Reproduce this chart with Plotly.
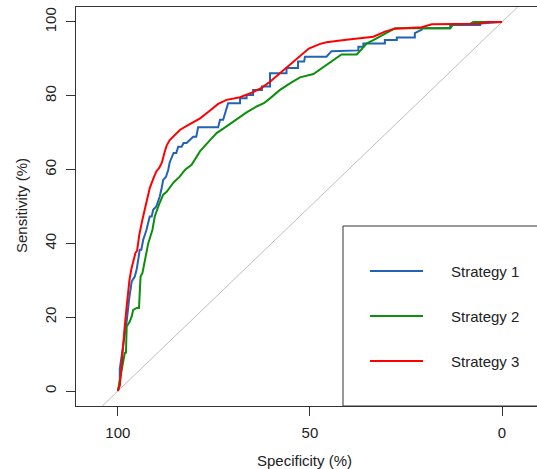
import plotly.graph_objects as go

# ---- data (specificity %, sensitivity %) ----
strategy_names = ["Strategy 1", "Strategy 2", "Strategy 3"]
line_colors = ["#2163B6", "#0A900A", "#FF0000"]

s1_spec = [100, 99.5, 99.5, 98.6, 97.7, 97.1, 96.4, 95.6, 95.1, 94.7, 94.3, 93.9, 93.4, 92.6, 91.7, 91.2,
           90.8, 90.0, 89.1, 88.6, 88.2, 87.5, 86.9, 86.5, 86.0, 85.5, 84.8, 84.3, 83.4, 82.9, 82.1, 81.3,
           80.4, 79.6, 79.1, 73.9, 73.4, 72.6, 71.7, 71.3, 68.2, 68.2, 66.5, 66.5, 64.8, 64.8, 62.5, 62.5,
           60.4, 60.4, 56.1, 56.1, 53.1, 53.1, 51.5, 51.3, 45.7, 44.4, 37.4, 37.4, 36.1, 36.1, 34.4, 30.5,
           30.5, 27.4, 27.4, 22.7, 22.7, 21.8, 20.9, 20.9, 13.5, 13.5, 5.7, 5.7, 0]
s1_sens = [0, 2, 6, 12, 19, 24.7, 29.7, 31, 33, 35.6, 38.3, 38.3, 41, 43.5, 47.3, 47.3,
           49.1, 50, 52.7, 55, 57.2, 58, 59.9, 62, 63.5, 64.5, 64.5, 66.2, 66.2, 67.2, 67.2, 68,
           68.9, 68.9, 71.5, 71.5, 73.5, 73.5, 76.2, 78, 78, 79.3, 79.3, 80.2, 80.2, 81.6, 81.6, 82.5,
           82.5, 86.1, 86.1, 87.5, 87.5, 89.3, 89.3, 90.6, 90.6, 92.1, 92.3, 93.3, 93.3, 94.2, 94.2, 94.2,
           95.1, 95.1, 95.8, 95.8, 97.0, 97.4, 97.9, 98.3, 98.3, 99.2, 99.2, 99.6, 100]

s2_spec = [100, 99.0, 98.2, 97.9, 97.7, 96.9, 96.4, 96.0, 95.1, 94.5, 94.4, 94.1, 93.6, 93.0, 92.1, 91.0,
           90.4, 89.3, 88.2, 87.3, 86.5, 85.5, 83.9, 82.5, 80.8, 79.5, 78.6, 76.0, 74.3, 72.0, 70.0, 67.5,
           66.5, 63.9, 62.0, 60.4, 57.8, 55.0, 52.6, 49.1, 45.7, 41.8, 37.8, 35.2, 33.5, 30.5, 27.9, 13.5,
           12.7, 8.3, 7.5, 0]
s2_sens = [0, 5.8, 10.3, 10.4, 17.5, 18.8, 20.2, 22, 22.5, 22.5, 26.5, 31, 32, 35, 40, 43.7,
           47.3, 50.5, 53.2, 54, 55, 56.5, 58.1, 60, 61.3, 63.5, 65, 68, 69.9, 71.5, 73.0, 74.8,
           75.5, 77.1, 78, 79.3, 81.6, 83.5, 85.0, 85.9, 88.4, 91.2, 91.2, 94.2, 95.1, 96.8, 98.3, 98.3,
           99.3, 99.5, 100, 100]

s3_spec = [100, 99.5, 99.2, 98.8, 98.3, 97.8, 97.4, 97.0, 96.5, 96.0, 95.4, 95.0, 94.4, 93.6, 93.0, 92.4,
           91.7, 90.8, 90.0, 89.2, 88.5, 87.9, 87.3, 86.5, 85.5, 83.8, 81.5, 78.6, 76.0, 73.9, 71.7, 68.2,
           64.8, 62.5, 60.4, 57.3, 53.7, 50.3, 47.5, 45.7, 40.5, 33.5, 30.5, 27.9, 20.9, 18.3, 6.0, 4.0, 0]
s3_sens = [0, 1.5, 5, 11, 16.5, 22, 27, 30, 33, 35, 37.5, 38, 42.5, 46.5, 49, 52,
           55, 57.5, 59.5, 60.5, 62, 64.5, 66.5, 68, 69, 70.8, 72.2, 73.9, 76, 77.8, 78.9, 79.6,
           81, 82.2, 83.8, 86.6, 89.9, 92.8, 94.0, 94.5, 95.2, 96.0, 97.4, 98.2, 98.6, 99.4, 99.5, 100, 100]

diag_spec = [104.06, -4.06]
diag_sens = [-4.06, 104.06]

x_ticks = [100, 50, 0]
y_ticks = [0, 20, 40, 60, 80, 100]

FONT = "Liberation Sans, Arial, sans-serif"
TXT = "#222222"

fig = go.Figure()
fig.add_trace(go.Scatter(x=diag_spec, y=diag_sens, mode="lines",
                         line=dict(color="#BEBEBE", width=1), showlegend=False, hoverinfo="skip"))
for xs, ys, name, col in zip([s1_spec, s2_spec, s3_spec], [s1_sens, s2_sens, s3_sens],
                             strategy_names, line_colors):
    fig.add_trace(go.Scatter(x=xs, y=ys, mode="lines", name=name,
                             line=dict(color=col, width=2), showlegend=False))

W, H = 537, 469
L, R, T, B = 76, 0, 7, 63
pw, ph = W - L - R, H - T - B

def px2paper(px, py):
    return (px - L) / pw, (H - B - py) / ph

shapes = []
annotations = []
# legend box
x0, _ = px2paper(343, 0)
_, y1 = px2paper(0, 226)
shapes.append(dict(type="rect", xref="paper", yref="paper", x0=x0, x1=1.05, y0=0, y1=y1,
                   line=dict(color="#333333", width=1), fillcolor="rgba(0,0,0,0)", layer="above"))
for i, (name, col) in enumerate(zip(strategy_names, line_colors)):
    py = 271 + 45 * i
    lx0, ly = px2paper(370, py)
    lx1, _ = px2paper(423, py)
    tx, _ = px2paper(449, py)
    shapes.append(dict(type="line", xref="paper", yref="paper", x0=lx0, x1=lx1, y0=ly, y1=ly,
                       line=dict(color=col, width=2)))
    annotations.append(dict(x=tx, y=ly, xref="paper", yref="paper", text=name, showarrow=False,
                            xanchor="left", yanchor="middle", font=dict(family=FONT, size=15, color=TXT)))

# axis titles
annotations.append(dict(x=px2paper(304, 0)[0], y=px2paper(0, 460)[1], xref="paper", yref="paper",
                        text="Specificity (%)", showarrow=False, xanchor="center", yanchor="middle",
                        font=dict(family=FONT, size=15, color=TXT)))
annotations.append(dict(x=px2paper(21, 0)[0], y=px2paper(0, 206)[1], xref="paper", yref="paper",
                        text="Sensitivity (%)", showarrow=False, xanchor="center", yanchor="middle",
                        textangle=-90, font=dict(family=FONT, size=15, color=TXT)))

fig.update_layout(
    width=W, height=H, margin=dict(l=L, r=R, t=T, b=B, autoexpand=False),
    paper_bgcolor="white", plot_bgcolor="white",
    font=dict(family=FONT, size=15, color=TXT),
    shapes=shapes, annotations=annotations, showlegend=False,
    xaxis=dict(range=[110.9, -9.1], tickmode="array", tickvals=x_ticks,
               ticktext=[str(v) for v in x_ticks], ticks="outside", ticklen=9, tickwidth=1,
               tickcolor="#333333", showline=True, linecolor="#333333", linewidth=1, mirror=True,
               showgrid=False, zeroline=False, tickfont=dict(size=15, color=TXT), automargin=False,
               ticklabelstandoff=4),
    yaxis=dict(range=[-4.06, 104.06], tickmode="array", tickvals=y_ticks,
               ticktext=[str(v) for v in y_ticks], ticks="outside", ticklen=9, tickwidth=1,
               tickcolor="#333333", showline=True, linecolor="#333333", linewidth=1, mirror=False,
               showgrid=False, zeroline=False, tickangle=-90, tickfont=dict(size=15, color=TXT),
               automargin=False, ticklabelstandoff=4),
)

fig.write_html("out.html", config={"displayModeBar": False},
               post_script="document.body.style.margin='0';document.body.style.overflow='hidden';")
